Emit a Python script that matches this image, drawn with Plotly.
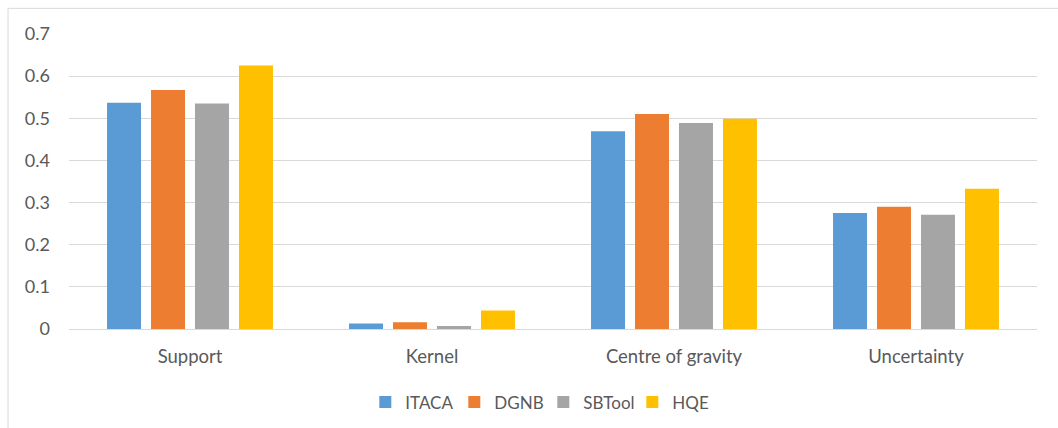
import plotly.graph_objects as go

categories = ["Support", "Kernel", "Centre of gravity", "Uncertainty"]
itaca = [0.537, 0.013, 0.469, 0.275]
dgnb = [0.567, 0.016, 0.510, 0.290]
sbtool = [0.535, 0.007, 0.489, 0.271]
hqe = [0.625, 0.044, 0.499, 0.333]

series = [
    ("ITACA", itaca, "#5B9BD5"),
    ("DGNB", dgnb, "#ED7D31"),
    ("SBTool", sbtool, "#A5A5A5"),
    ("HQE", hqe, "#FFC000"),
]

font_family = "Lato, 'Open Sans', sans-serif"
text_color = "#595959"
grid_color = "#D9D9D9"

fig = go.Figure()
for name, vals, color in series:
    fig.add_trace(go.Bar(
        name=name, x=categories, y=vals,
        marker=dict(color=color, line=dict(width=0)),
    ))

fig.update_layout(
    width=1058, height=428,
    margin=dict(l=69, r=21, t=34, b=99, autoexpand=False),
    paper_bgcolor="white", plot_bgcolor="white",
    barmode="group", bargap=0.273, bargroupgap=0.227,
    font=dict(family=font_family, size=17, color=text_color),
    showlegend=True,
    legend=dict(
        orientation="h", x=0.49, xanchor="center", y=-0.188, yanchor="top",
        font=dict(size=17, color=text_color),
        itemwidth=30, entrywidth=44, entrywidthmode="pixels",
        traceorder="normal",
    ),
    xaxis=dict(
        showgrid=False, showline=False, ticks="", ticklabelstandoff=14,
        tickfont=dict(size=18.5, color=text_color),
    ),
    yaxis=dict(
        range=[0, 0.7], dtick=0.1, tickformat="~g",
        showgrid=True, gridcolor=grid_color, gridwidth=1,
        zeroline=True, zerolinecolor=grid_color, zerolinewidth=1,
        showline=False, ticks="", ticklabelstandoff=18,
        tickfont=dict(size=18, color=text_color),
    ),
    shapes=[
        dict(type="line", xref="paper", yref="paper",
             x0=-0.063, x1=1.03, y0=1.087, y1=1.087,
             line=dict(color=grid_color, width=1)),
        dict(type="line", xref="paper", yref="paper",
             x0=-0.063, x1=-0.063, y0=1.087, y1=-0.34,
             line=dict(color=grid_color, width=1)),
    ],
)

fig.write_html("out.html")
